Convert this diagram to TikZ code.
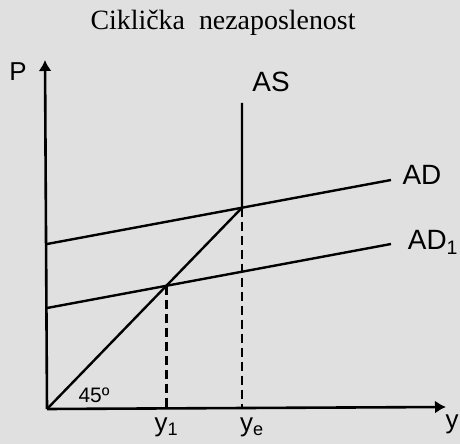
\documentclass[tikz,border=0pt]{standalone}
\usepackage{fontspec}
\setmainfont{Liberation Serif}
\setsansfont{Liberation Sans}
\usepackage{tikz}
\usetikzlibrary{positioning,arrows.meta,calc}
\tikzset{
  axisarrow/.style={-{Latex[length=11bp,width=13bp]}, line width=2.6bp},
  curveline/.style={line width=2.4bp},
  guideline/.style={line width=2.6bp, dash pattern=on 9bp off 5bp},
  axislabel/.style={font=\sffamily\fontsize{26}{28}\selectfont, inner sep=0pt},
  curvelabel/.style={font=\sffamily\fontsize{28}{30}\selectfont, inner sep=0pt},
  titlelabel/.style={font=\rmfamily\fontsize{28}{30}\selectfont, inner sep=0pt}
}
\begin{document}
\begin{tikzpicture}[x=1bp, y=1bp]
  \fill[black!12] (0,0) rectangle (460,444);
  \useasboundingbox (0,0) rectangle (460,444);
  % axes
  \coordinate (o) at (47,35);
  \coordinate (ptop) at (45,384);
  \coordinate (yend) at (446,37);
  \draw[axisarrow] (o) -- (ptop);
  \draw[axisarrow] (o) -- (yend);
  % demand and supply
  \coordinate (adL) at (47,200);
  \coordinate (adR) at (391,264);
  \coordinate (adaL) at (47,136);
  \coordinate (adaR) at (391,200);
  \coordinate (astop) at (242,341);
  \coordinate (eq) at (intersection of adL--adR and 242,0--astop);
  \coordinate (eqa) at (intersection of adaL--adaR and o--eq);
  \coordinate (ye) at (eq |- o);
  \coordinate (ya) at (eqa |- o);
  \draw[curveline] (adL) -- (adR);
  \draw[curveline] (adaL) -- (adaR);
  \draw[curveline] (astop) -- (eq);
  \draw[curveline] (o) -- (eq);
  \draw[guideline] (eq) -- (ye);
  \draw[guideline] (eqa) -- (ya);
  % labels
  \node[titlelabel] (title) at (223,421) {Ciklička\ \ nezaposlenost};
  \node[axislabel] (plabel) at (18,372) {P};
  \node[axislabel] (ylabel) at (452,20) {y};
  \node[curvelabel] (aslabel) at (271,362) {AS};
  \node[curvelabel] (adlabel) at (422,269) {AD};
  \node[curvelabel] (adalabel) at (433,202) {AD$_{\mathsf{1}}$};
  \node[axislabel, below=9bp of ya] (yalabel) {y$_{\mathsf{1}}$};
  \node[axislabel, below=9bp of ye, xshift=10bp] (yelabel) {y$_{\mathsf{e}}$};
  \node[font=\sffamily\fontsize{21}{23}\selectfont, inner sep=0pt] (angle) at (94,49) {45º};
\end{tikzpicture}
\end{document}
